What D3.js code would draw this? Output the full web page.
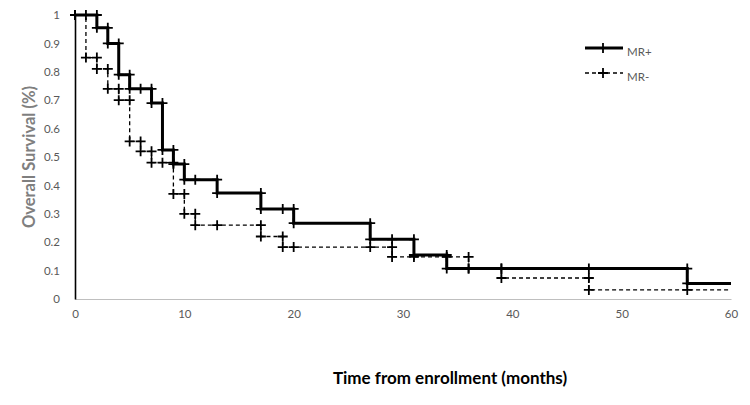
<!DOCTYPE html>
<html>
<head>
<meta charset="utf-8">
<script src="https://cdn.jsdelivr.net/npm/d3@7"></script>
<style>
    body { margin: 0; background: #fff; }
    svg { display: block; font-family: Lato, "Open Sans", sans-serif; }
    .tick text { fill: #595959; font-size: 11.5px; }
</style>
</head>
<body>
<script>
// event times (months) and survival after each step
const mrPlusTime = [0, 2, 3, 4, 5, 7, 8, 9, 10, 13, 17, 20, 27, 31, 34, 56, 60]
const mrPlusSurv = [1, 0.955, 0.9, 0.79, 0.74, 0.69, 0.525, 0.475, 0.42, 0.373, 0.317, 0.267, 0.21, 0.155, 0.107, 0.055, 0.055]
const mrPlusCensor = [6, 11, 19, 29, 36, 39, 47]

const mrMinusTime = [0, 1, 2, 3, 4, 5, 6, 7, 9, 10, 11, 17, 19, 29, 36, 39, 47, 60]
const mrMinusSurv = [1, 0.85, 0.81, 0.74, 0.7, 0.555, 0.52, 0.48, 0.37, 0.3, 0.26, 0.22, 0.183, 0.148, 0.107, 0.074, 0.032, 0.032]
const mrMinusCensor = [8, 13, 20, 27, 31, 34, 56]

const xTicks = [0, 10, 20, 30, 40, 50, 60]
const yTicks = [0, 0.1, 0.2, 0.3, 0.4, 0.5, 0.6, 0.7, 0.8, 0.9, 1]

const WIDTH = 750
const HEIGHT = 405

const PADDING = {
    left: 75,
    right: 19,
    top: 15,
    bottom: 106
}

const svg = d3.select("body")
    .append("svg")
    .attr("width", WIDTH)
    .attr("height", HEIGHT)

const xScale = d3.scaleLinear()
    .domain([0, 60])
    .range([PADDING.left, WIDTH - PADDING.right])

const yScale = d3.scaleLinear()
    .domain([0, 1])
    .range([HEIGHT - PADDING.bottom, PADDING.top])

const xAxis = d3.axisBottom(xScale)
    .tickValues(xTicks)
    .tickSize(0)
    .tickPadding(11)
    .tickFormat(d3.format("d"))

const yAxis = d3.axisLeft(yScale)
    .tickValues(yTicks)
    .tickSize(0)
    .tickPadding(15)
    .tickFormat(d => d)

svg.append("g")
    .attr("transform", "translate(0, " + (HEIGHT - PADDING.bottom) + ")")
    .call(xAxis)
    .call(g => g.select(".domain").attr("stroke", "#bfbfbf").attr("stroke-width", 1.2))

svg.append("g")
    .attr("transform", "translate(" + PADDING.left + ", 0)")
    .call(yAxis)
    .call(g => g.select(".domain").attr("stroke", "#000").attr("stroke-width", 1.6))

svg.selectAll(".tick text").attr("font-family", "Lato, sans-serif")

svg.append("text")
    .attr("transform", "rotate(-90)")
    .attr("x", -157)
    .attr("y", 35)
    .attr("text-anchor", "middle")
    .style("font-size", "16.5px")
    .style("font-weight", "bold")
    .style("fill", "#7f7f7f")
    .text("Overall Survival (%)")

svg.append("text")
    .attr("x", 450)
    .attr("y", 384)
    .attr("text-anchor", "middle")
    .style("font-size", "17px")
    .style("font-weight", "bold")
    .style("fill", "#000")
    .text("Time from enrollment (months)")

// survival value at time t
const survAt = (times, surv, t) => {
    let i = d3.bisectRight(times, t) - 1
    return surv[Math.max(0, i)]
}

const stepLine = d3.line()
    .x(d => xScale(d[0]))
    .y(d => yScale(d[1]))
    .curve(d3.curveStepAfter)

const crossPath = (cx, cy) => {
    const s = 5
    return "M" + (cx - s) + "," + cy + "H" + (cx + s) + "M" + cx + "," + (cy - s) + "V" + (cy + s)
}

const drawSeries = (times, surv, censor, width, dash) => {
    const pts = times.map((t, i) => [t, surv[i]])
    svg.append("path")
        .attr("d", stepLine(pts))
        .attr("fill", "none")
        .attr("stroke", "#000")
        .attr("stroke-width", width)
        .attr("stroke-dasharray", dash)

    let marks = []
    for (let i = 0; i < times.length - 1; i++) {
        marks.push([times[i], surv[i]])
        if (i < times.length - 2) marks.push([times[i + 1], surv[i]])
    }
    censor.forEach(c => marks.push([c, survAt(times, surv, c)]))

    svg.append("g")
        .selectAll("path")
        .data(marks)
        .enter()
        .append("path")
        .attr("d", d => crossPath(xScale(d[0]), yScale(d[1])))
        .attr("stroke", "#000")
        .attr("stroke-width", 1.8)
}

drawSeries(mrMinusTime, mrMinusSurv, mrMinusCensor, 1.3, "4,3")
drawSeries(mrPlusTime, mrPlusSurv, mrPlusCensor, 3, null)

// legend
const legend = svg.append("g")
    .attr("transform", "translate(585, 48)")

const legendItems = [
    { name: "MR+", width: 3, dash: null },
    { name: "MR-", width: 1.3, dash: "4,3" }
]

legendItems.forEach((item, i) => {
    const y = i * 25
    legend.append("line")
        .attr("x1", 0).attr("x2", 38)
        .attr("y1", y).attr("y2", y)
        .attr("stroke", "#000")
        .attr("stroke-width", item.width)
        .attr("stroke-dasharray", item.dash)
    legend.append("path")
        .attr("d", crossPath(18, y))
        .attr("stroke", "#000")
        .attr("stroke-width", 1.8)
    legend.append("text")
        .attr("x", 42)
        .attr("y", y + 8)
        .style("font-size", "11.5px")
        .style("fill", "#595959")
        .text(item.name)
})
</script>
</body>
</html>
